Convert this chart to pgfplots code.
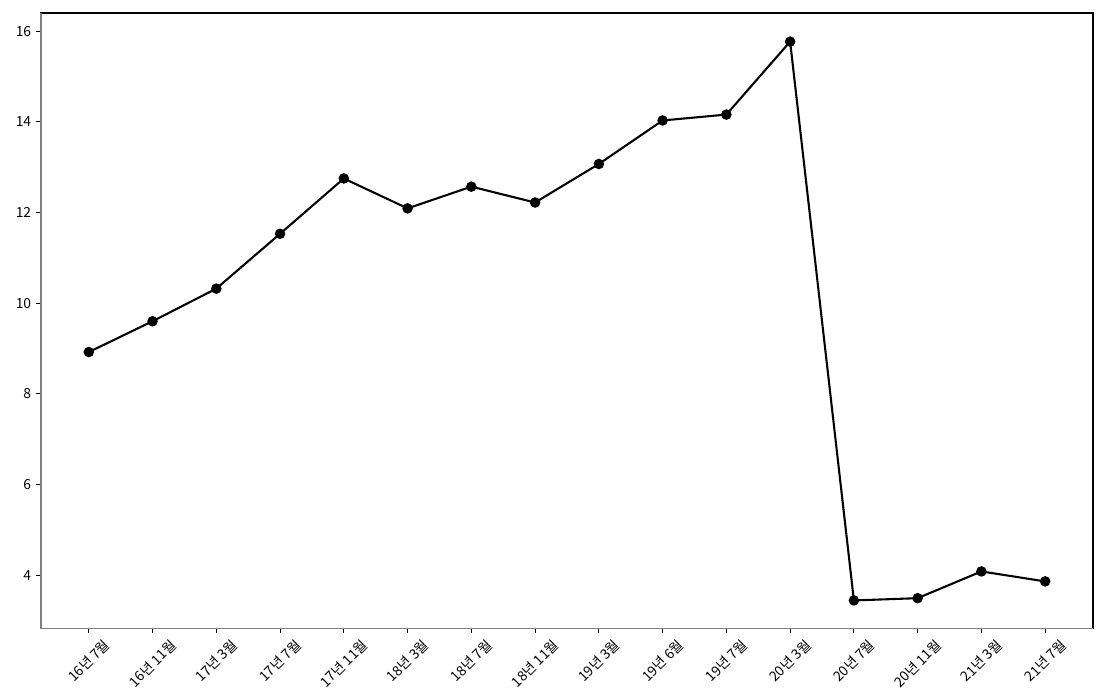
\documentclass[border=0pt]{standalone}
\usepackage{pgfplots}
\pgfplotsset{compat=1.18}
\usepackage{fontspec}
\setmainfont{Noto Sans CJK KR}
\newcommand{\rl}[1]{\rotatebox{45}{#1}}
\begin{document}
\begin{tikzpicture}
\begin{axis}[
  name=ax,
  scale only axis,
  width=757.4pt, height=442.8pt,
  xmin=-0.75, xmax=15.75,
  ymin=2.83, ymax=16.4,
  ytick={4,6,8,10,12,14,16},
  xtick={0,...,15},
  xticklabels={\rl{16년 7월},\rl{16년 11월},\rl{17년 3월},\rl{17년 7월},\rl{17년 11월},\rl{18년 3월},\rl{18년 7월},\rl{18년 11월},\rl{19년 3월},\rl{19년 6월},\rl{19년 7월},\rl{20년 3월},\rl{20년 7월},\rl{20년 11월},\rl{21년 3월},\rl{21년 7월}},
  xticklabel style={anchor=north, font=\fontsize{10}{12}\selectfont, inner sep=0pt, yshift=-3.5pt},
  yticklabel style={font=\fontsize{10}{12}\selectfont},
  /pgf/number format/assume math mode=true,
  tick align=outside,
  major tick length=3.5pt,
  tick style={black, line width=0.8pt},
  axis line style={line width=0.8pt, black},
  xtick pos=bottom, ytick pos=left,
  after end axis/.code={
    \draw[gray, line width=0.8pt] (rel axis cs:0,1) -- (rel axis cs:0,0) -- (rel axis cs:1,0);
  },
]
\addplot[black, line width=1.5pt, mark=*, mark size=3pt, mark options={fill=black}] coordinates {
(0,8.92) (1,9.60) (2,10.32) (3,11.53) (4,12.75) (5,12.09) (6,12.57) (7,12.22) (8,13.07) (9,14.03) (10,14.16) (11,15.77) (12,3.44) (13,3.49) (14,4.08) (15,3.86)
};
\end{axis}
\path (ax.south west) ++(-29.5pt,-51.1pt) coordinate (bbA);
\path (ax.north east) ++(2.9pt,9.4pt) coordinate (bbB);
\path (bbA) rectangle (bbB);
\end{tikzpicture}
\end{document}
